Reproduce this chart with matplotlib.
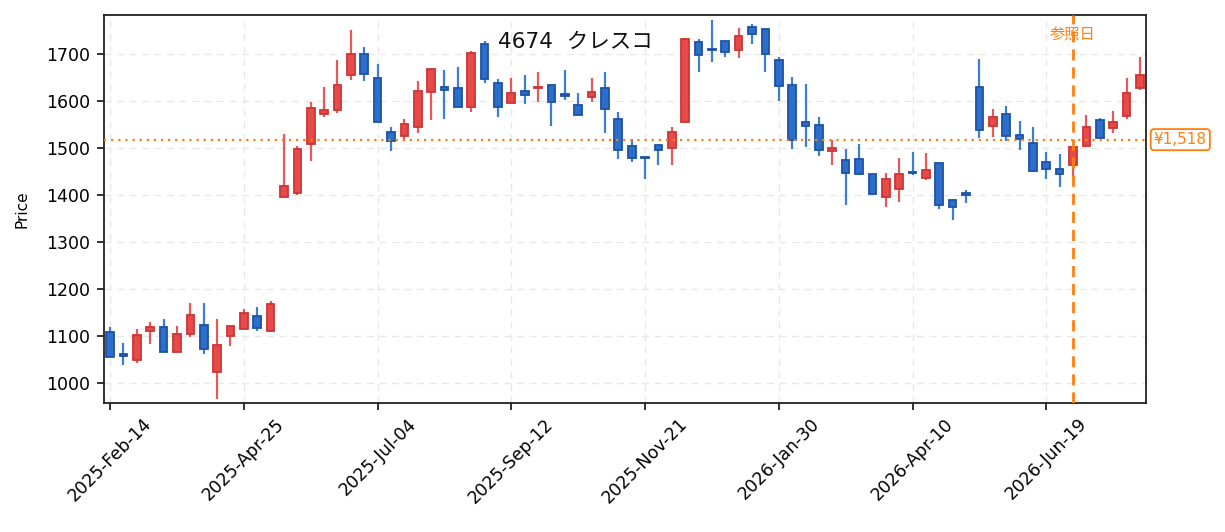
import matplotlib
matplotlib.use("Agg")
import matplotlib.pyplot as plt
import matplotlib.dates as mdates
import numpy as np
import datetime as dt

plt.rcParams['font.family'] = ['DejaVu Sans', 'Noto Sans CJK JP']

start_date = dt.date(2025, 2, 14)
n_weeks = 78
dates = [start_date + dt.timedelta(days=7 * i) for i in range(n_weeks)]

opens = [1110, 1062, 1050, 1112, 1119, 1066, 1104, 1124, 1023, 1101, 1116, 1142, 1112,
         1395, 1404, 1508, 1572, 1582, 1655, 1700, 1649, 1534, 1525, 1544, 1620, 1630,
         1628, 1587, 1722, 1638, 1596, 1621, 1627, 1634, 1615, 1591, 1608, 1628, 1562,
         1504, 1482, 1506, 1501, 1555, 1726, 1711, 1728, 1709, 1757, 1753, 1688, 1634,
         1555, 1549, 1493, 1474, 1477, 1445, 1397, 1413, 1450, 1437, 1468, 1390, 1404,
         1630, 1546, 1572, 1528, 1511, 1470, 1456, 1465, 1504, 1560, 1542, 1569, 1628]
highs = [1120, 1085, 1116, 1131, 1136, 1121, 1170, 1170, 1136, 1121, 1157, 1162, 1174,
         1529, 1504, 1599, 1629, 1687, 1752, 1716, 1678, 1544, 1561, 1642, 1668, 1667,
         1672, 1706, 1728, 1646, 1650, 1655, 1661, 1634, 1665, 1618, 1650, 1662, 1577,
         1520, 1482, 1506, 1544, 1735, 1731, 1772, 1728, 1755, 1763, 1753, 1694, 1652,
         1637, 1567, 1518, 1498, 1508, 1445, 1446, 1478, 1491, 1489, 1468, 1392, 1411,
         1689, 1584, 1590, 1557, 1544, 1491, 1487, 1502, 1571, 1563, 1578, 1649, 1693]
lows = [1055, 1038, 1043, 1083, 1066, 1066, 1099, 1062, 966, 1079, 1116, 1112, 1108,
        1395, 1400, 1472, 1566, 1574, 1645, 1643, 1555, 1494, 1516, 1532, 1560, 1562,
        1587, 1577, 1638, 1566, 1596, 1594, 1598, 1547, 1602, 1570, 1598, 1532, 1477,
        1470, 1435, 1464, 1464, 1555, 1662, 1683, 1694, 1691, 1721, 1662, 1600, 1498,
        1502, 1483, 1464, 1379, 1443, 1403, 1374, 1385, 1443, 1432, 1371, 1347, 1383,
        1521, 1523, 1516, 1496, 1450, 1434, 1418, 1438, 1504, 1521, 1532, 1562, 1624]
closes = [1055, 1058, 1103, 1120, 1066, 1105, 1145, 1072, 1081, 1121, 1149, 1118, 1168,
          1419, 1498, 1585, 1581, 1634, 1700, 1658, 1555, 1516, 1551, 1621, 1668, 1623,
          1587, 1703, 1646, 1587, 1617, 1612, 1630, 1597, 1610, 1570, 1619, 1584, 1495,
          1479, 1479, 1496, 1535, 1732, 1697, 1709, 1704, 1738, 1742, 1701, 1633, 1518,
          1548, 1497, 1500, 1448, 1445, 1403, 1435, 1445, 1446, 1453, 1379, 1374, 1400,
          1538, 1566, 1526, 1520, 1452, 1455, 1444, 1502, 1545, 1521, 1555, 1617, 1655]

ref_price = 1518
ref_date = dt.date(2026, 7, 3)
title_text = "4674  クレスコ"
ref_label = "参照日"
price_label = "¥1,518"
tick_every = 10

up_face, up_edge, up_wick = "#e84a4a", "#cc3535", "#e85858"
dn_face, dn_edge, dn_wick = "#2c6fca", "#1d52a6", "#3b7fd2"
orange = "#ff7f0e"

fig = plt.figure(figsize=(12.25, 5.32), dpi=100)
ax = fig.add_axes([0.0849, 0.2425, 0.8506, 0.7293])

x = mdates.date2num(dates)
o = np.array(opens); h = np.array(highs); l = np.array(lows); c = np.array(closes)
up = c >= o
face = [up_face if u else dn_face for u in up]
edge = [up_edge if u else dn_edge for u in up]
wick = [up_wick if u else dn_wick for u in up]

ax.vlines(x, l, h, colors=wick, linewidth=1.6, zorder=2)
bottoms = np.minimum(o, c)
heights = np.maximum(np.abs(c - o), 1.0)
ax.bar(x, heights, bottom=bottoms, width=4.0, color=face, edgecolor=edge,
       linewidth=1.3, zorder=3)

ax.axhline(ref_price, color=orange, linestyle=(0, (1, 2.2)), linewidth=1.6, zorder=4)
ax.axvline(mdates.date2num(ref_date), color=orange, linestyle=(0, (4, 2.5)),
           linewidth=2.0, zorder=4)
ax.text(mdates.date2num(ref_date), 0.95, ref_label, transform=ax.get_xaxis_transform(),
        ha="center", va="center", color=orange, fontsize=11)
ax.text(1.0075, ref_price, price_label, transform=ax.get_yaxis_transform(),
        ha="left", va="center", color=orange, fontsize=11,
        bbox=dict(boxstyle="round,pad=0.2", facecolor="white", edgecolor=orange, linewidth=1.3))

ax.text(0.452, 0.93, title_text, transform=ax.transAxes, ha="center", va="center",
        fontsize=15.5, color="#111111")

ax.set_xlim(x[0] - 3.2, x[-1] + 3.2)
ax.set_ylim(958, 1783)
ax.set_xticks(x[::tick_every])
ax.xaxis.set_major_formatter(mdates.DateFormatter("%Y-%b-%d"))
plt.setp(ax.get_xticklabels(), rotation=45, ha="center")
ax.set_yticks(np.arange(1000, 1701, 100))
ax.tick_params(axis="both", labelsize=12.5, width=1.3, length=5, color="#222222")
ax.tick_params(axis="y", pad=5)
ax.set_ylabel("Price", fontsize=11, labelpad=12)
ax.grid(True, linestyle=(0, (5, 4)), color="#e8e8e8", linewidth=1.0, zorder=0)
ax.set_axisbelow(True)
for s in ax.spines.values():
    s.set_linewidth(1.3)
    s.set_color("#222222")

fig.savefig("out.png", dpi=100)
